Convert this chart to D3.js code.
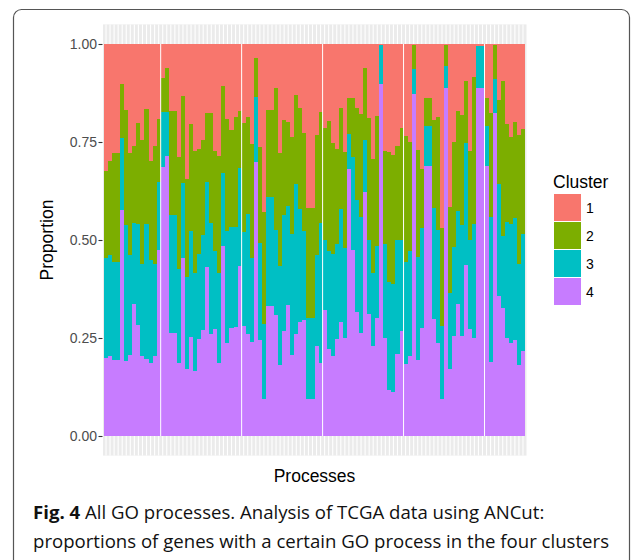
<!DOCTYPE html>
<html>
<head>
<meta charset="utf-8">
<script src="https://cdn.jsdelivr.net/npm/d3@7"></script>
<style>
  body { margin: 0; background: #fff; }
  svg { display: block; }
</style>
</head>
<body>
<svg id="fig" width="634" height="560"></svg>
<script>
// proportion of genes per GO process in each cluster
var clusters = ["1", "2", "3", "4"];
var colors = ["#F8766D", "#7CAE00", "#00BFC4", "#C77CFF"];

var c1 = [0.324,0.298,0.279,0.279,0.102,0.168,0.279,0.260,0.202,0.245,0.167,0.298,0.260,0.192,
  0.087,0.060,0.172,0.172,0.288,0.133,0.344,0.204,0.273,0.268,0.245,0.177,0.177,0.273,0.286,0.107,0.192,0.219,0.187,0.172,
  0.202,0.187,0.255,0.036,0.264,0.429,0.168,0.168,0.111,0.279,0.194,0.199,0.238,0.131,0.163,0.228,0.418,0.418,0.233,0.173,
  0.214,0.197,0.253,0.269,0.163,0.276,0.138,0.138,0.162,0.179,0.060,0.189,0.294,0.184,0.003,0.274,0.276,0.284,0.260,0.214,
  0.235,0.250,0.003,0.270,0.320,0.138,0.138,0.194,0.187,0.469,0.003,0.416,0.250,0.172,0.182,0.095,0.274,0.085,0.004,0.004,
  0.138,0.177,0.003,0.143,0.095,0.204,0.238,0.199,0.233,0.218];
var c2 = [0.223,0.240,0.277,0.277,0.137,0.295,0.260,0.197,0.257,0.316,0.292,0.253,0.300,0.160,
  0.086,0.113,0.265,0.265,0.287,0.222,0.251,0.274,0.312,0.268,0.243,0.175,0.280,0.256,0.299,0.223,0.286,0.249,0.281,0.144,
  0.278,0.247,0.291,0.100,0.244,0.285,0.223,0.223,0.363,0.287,0.243,0.213,0.247,0.226,0.259,0.250,0.281,0.281,0.306,0.284,
  0.286,0.332,0.283,0.241,0.259,0.244,0.092,0.151,0.236,0.263,0.185,0.311,0.291,0.331,0.000,0.236,0.331,0.328,0.240,0.286,
  0.321,0.279,0.062,0.274,0.150,0.070,0.070,0.224,0.287,0.250,0.053,0.220,0.269,0.255,0.281,0.158,0.226,0.374,0.000,0.000,
  0.070,0.265,0.087,0.214,0.395,0.250,0.221,0.245,0.328,0.267];
var c3 = [0.255,0.258,0.250,0.250,0.184,0.346,0.254,0.205,0.258,0.235,0.345,0.262,0.236,0.174,
  0.141,0.113,0.300,0.300,0.238,0.191,0.234,0.269,0.249,0.217,0.242,0.218,0.283,0.198,0.228,0.185,0.284,0.256,0.253,0.250,
  0.239,0.306,0.214,0.165,0.247,0.191,0.277,0.277,0.218,0.253,0.296,0.255,0.309,0.384,0.287,0.226,0.206,0.206,0.231,0.356,
  0.179,0.250,0.260,0.243,0.287,0.230,0.090,0.237,0.286,0.294,0.133,0.189,0.185,0.184,0.099,0.240,0.276,0.276,0.291,0.233,
  0.260,0.267,0.063,0.262,0.254,0.103,0.103,0.284,0.290,0.187,0.056,0.194,0.226,0.235,0.282,0.312,0.228,0.291,0.108,0.108,
  0.103,0.368,0.087,0.286,0.183,0.296,0.305,0.311,0.259,0.299];
var c4 = [0.198,0.204,0.194,0.194,0.577,0.191,0.207,0.338,0.283,0.204,0.196,0.187,0.204,0.474,
  0.686,0.714,0.263,0.263,0.187,0.454,0.171,0.253,0.166,0.247,0.270,0.430,0.260,0.273,0.187,0.485,0.238,0.276,0.279,0.434,
  0.281,0.260,0.240,0.699,0.245,0.095,0.332,0.332,0.308,0.181,0.267,0.333,0.206,0.259,0.291,0.296,0.095,0.095,0.230,0.187,
  0.321,0.221,0.204,0.247,0.291,0.250,0.680,0.474,0.316,0.264,0.622,0.311,0.230,0.301,0.898,0.250,0.117,0.112,0.209,0.267,
  0.184,0.204,0.872,0.194,0.276,0.689,0.689,0.298,0.236,0.094,0.888,0.170,0.255,0.338,0.255,0.435,0.272,0.250,0.888,0.888,
  0.689,0.190,0.823,0.357,0.327,0.250,0.236,0.245,0.180,0.216];

// thin white seams seen in the picture, before these process indices
var seams = [14, 34, 54, 74, 94];
var yTicks = [0, 0.25, 0.5, 0.75, 1];

var rows = c1.map(function(v, i) {
  return {id: i, "1": c1[i], "2": c2[i], "3": c3[i], "4": c4[i]};
});

var font = "Liberation Sans, Arial, sans-serif";
var svg = d3.select("#fig");

// figure box
svg.append("rect")
  .attr("x", 13.5).attr("y", 9.5)
  .attr("width", 616).attr("height", 620)
  .attr("rx", 8).attr("ry", 8)
  .attr("fill", "none").attr("stroke", "#555").attr("stroke-width", 1.2);

var x = d3.scaleBand().domain(rows.map(function(d) { return d.id; })).range([104, 525]);
var y = d3.scaleLinear().domain([-0.05, 1.05]).range([455.6, 24.4]);

var panel = {left: 103, right: 526.5};

svg.append("rect")
  .attr("x", panel.left).attr("y", y(1.05))
  .attr("width", panel.right - panel.left).attr("height", y(-0.05) - y(1.05))
  .attr("fill", "#EBEBEB");

// vertical grid lines, one per process
svg.append("g").selectAll("line")
  .data(rows).enter().append("line")
  .attr("x1", function(d) { return x(d.id) + x.bandwidth() / 2; })
  .attr("x2", function(d) { return x(d.id) + x.bandwidth() / 2; })
  .attr("y1", y(1.05)).attr("y2", y(-0.05))
  .attr("stroke", "#fff").attr("stroke-width", 1.1);

// stack: cluster 4 at the bottom, 1 on top
var stack = d3.stack().keys(["4", "3", "2", "1"]);
var series = stack(rows);

svg.append("g").selectAll("g")
  .data(series).enter().append("g")
  .attr("fill", function(s) { return colors[clusters.indexOf(s.key)]; })
  .selectAll("rect")
  .data(function(s) { return s; }).enter().append("rect")
  .attr("x", function(d) { return x(d.data.id); })
  .attr("width", x.bandwidth())
  .attr("y", function(d) { return y(d[1]); })
  .attr("height", function(d) { return y(d[0]) - y(d[1]); })
  .attr("shape-rendering", "crispEdges");

svg.append("g").selectAll("line")
  .data(seams).enter().append("line")
  .attr("x1", function(d) { return x(d); })
  .attr("x2", function(d) { return x(d); })
  .attr("y1", y(1)).attr("y2", y(0))
  .attr("stroke", "#fff").attr("stroke-width", 1);

// y axis
var yAxis = svg.append("g")
  .attr("transform", "translate(102.5,0)")
  .call(d3.axisLeft(y).tickValues(yTicks).tickFormat(d3.format(".2f")).tickSize(4).tickPadding(1.5));
yAxis.select(".domain").remove();
yAxis.selectAll(".tick line").attr("stroke", "#333").attr("stroke-width", 1.1);
yAxis.selectAll(".tick text")
  .attr("fill", "#4D4D4D")
  .style("font-family", font)
  .style("font-size", "14px");

// axis titles
svg.append("text")
  .attr("transform", "translate(314.5,482)")
  .attr("text-anchor", "middle")
  .style("font-family", font)
  .style("font-size", "17.5px")
  .text("Processes");

svg.append("text")
  .attr("transform", "translate(52.5,240) rotate(-90)")
  .attr("text-anchor", "middle")
  .style("font-family", font)
  .style("font-size", "17.5px")
  .text("Proportion");

// legend
var legend = svg.append("g").attr("transform", "translate(554,0)");
legend.append("text")
  .attr("transform", "translate(-1,188)")
  .style("font-family", font)
  .style("font-size", "17.5px")
  .text("Cluster");

var keys = legend.selectAll("g.key")
  .data(clusters).enter().append("g")
  .attr("class", "key")
  .attr("transform", function(d, i) { return "translate(0," + (194 + i * 28) + ")"; });
keys.append("rect")
  .attr("width", 27).attr("height", 27)
  .attr("fill", function(d, i) { return colors[i]; });
keys.append("text")
  .attr("transform", "translate(32,18.5)")
  .style("font-family", font)
  .style("font-size", "14px")
  .text(function(d) { return d; });

// caption
var cap = svg.append("text")
  .style("font-family", "Open Sans, Noto Sans, sans-serif")
  .style("font-size", "18.6px")
  .attr("fill", "#111");
var l1 = cap.append("tspan").attr("x", 33).attr("y", 519);
l1.append("tspan").style("font-weight", "bold").text("Fig. 4");
l1.append("tspan").text(" All GO processes. Analysis of TCGA data using ANCut:");
cap.append("tspan").attr("x", 33).attr("y", 548)
  .text("proportions of genes with a certain GO process in the four clusters");
</script>
</body>
</html>
